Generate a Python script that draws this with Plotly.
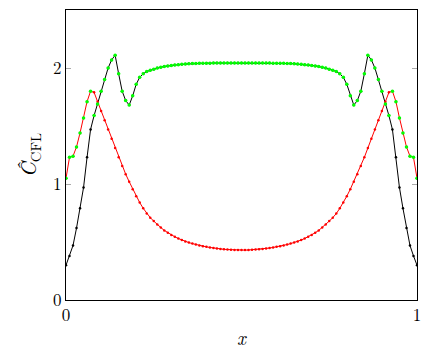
import numpy as np
import plotly.graph_objects as go

N = 101
x = np.linspace(0, 1, N)

black_vals = [0.30,0.38,0.47,0.62,0.79,0.97,1.23,1.47,1.59,1.69,
1.80,1.90,2.00,2.07,2.11,1.95,1.80,1.72,1.68,1.76,
1.86,1.92,1.95,1.97,1.98,1.99,2.00,2.007,2.013,2.018,
2.022,2.026,2.029,2.032,2.034,2.036,2.038,2.039,2.040,2.041,
2.042,2.042,2.043,2.043,2.043,2.044,2.044,2.044,2.044,2.044,
2.044,
2.044,2.044,2.044,2.044,2.044,2.043,2.043,2.043,2.042,2.042,
2.041,2.040,2.039,2.038,2.036,2.034,2.032,2.029,2.026,2.022,
2.018,2.013,2.007,2.00,1.99,1.98,1.97,1.95,1.92,1.86,
1.76,1.68,1.72,1.80,1.95,2.11,2.07,2.00,1.90,1.80,
1.69,1.59,1.47,1.23,0.97,0.79,0.62,0.47,0.38,0.30]

red_vals = [1.05,1.23,1.24,1.32,1.44,1.57,1.71,1.80,1.79,1.71,
1.63,1.55,1.47,1.39,1.31,1.23,1.155,1.085,1.02,0.955,
0.895,0.84,0.79,0.745,0.71,0.68,0.65,0.625,0.60,0.58,
0.56,0.545,0.53,0.517,0.505,0.495,0.486,0.478,0.47,0.464,
0.458,0.453,0.448,0.444,0.44,0.437,0.435,0.433,0.431,0.43,
0.43,
0.43,0.431,0.433,0.435,0.437,0.44,0.444,0.448,0.453,0.458,
0.464,0.47,0.478,0.486,0.495,0.505,0.517,0.53,0.545,0.56,
0.58,0.60,0.625,0.65,0.68,0.71,0.745,0.79,0.84,0.895,
0.955,1.02,1.085,1.155,1.23,1.31,1.39,1.47,1.55,1.63,
1.71,1.79,1.80,1.71,1.57,1.44,1.32,1.24,1.23,1.05]

green_vals = [1.05,1.23,1.24,1.32,1.44,1.57,1.71,1.80,1.59,1.69,
1.80,1.90,2.00,2.07,2.11,1.95,1.80,1.72,1.68,1.76,
1.86,1.92,1.95,1.97,1.98,1.99,2.00,2.007,2.013,2.018,
2.022,2.026,2.029,2.032,2.034,2.036,2.038,2.039,2.040,2.041,
2.042,2.042,2.043,2.043,2.043,2.044,2.044,2.044,2.044,2.044,
2.044,
2.044,2.044,2.044,2.044,2.044,2.043,2.043,2.043,2.042,2.042,
2.041,2.040,2.039,2.038,2.036,2.034,2.032,2.029,2.026,2.022,
2.018,2.013,2.007,2.00,1.99,1.98,1.97,1.95,1.92,1.86,
1.76,1.68,1.72,1.80,1.95,2.11,2.07,2.00,1.90,1.80,
1.69,1.59,1.80,1.71,1.57,1.44,1.32,1.24,1.23,1.05]

x_ticks = [0, 1]
y_ticks = [0, 1, 2]

FONT = "Latin Modern Roman, CMU Serif, Liberation Serif, DejaVu Serif, serif"

fig = go.Figure()
fig.add_trace(go.Scatter(x=x, y=black_vals, mode="lines+markers",
                         line=dict(color="black", width=1),
                         marker=dict(color="black", size=2.5), showlegend=False))
fig.add_trace(go.Scatter(x=x, y=red_vals, mode="lines+markers",
                         line=dict(color="#ff0000", width=1),
                         marker=dict(color="#ff0000", size=2.5), showlegend=False))
fig.add_trace(go.Scatter(x=x, y=green_vals, mode="markers",
                         marker=dict(color="#00ff00", size=3.5), showlegend=False))

fig.update_layout(
    width=437, height=354,
    margin=dict(l=66, r=20, t=10, b=54),
    paper_bgcolor="white", plot_bgcolor="white",
    font=dict(family=FONT, size=17, color="black"),
)
fig.update_xaxes(range=[0, 1], tickvals=x_ticks, ticktext=[str(v) for v in x_ticks],
                 showline=True, linecolor="black", linewidth=1, mirror="allticks",
                 ticks="inside", ticklen=5, tickcolor="#aaaaaa", showgrid=False,
                 zeroline=False, automargin=False,
                 title=dict(text="<i>x</i>", standoff=6, font=dict(size=19)))
fig.update_yaxes(range=[0, 2.5], tickvals=y_ticks, ticktext=[str(v) for v in y_ticks],
                 showline=True, linecolor="black", linewidth=1, mirror="allticks",
                 ticks="inside", ticklen=5, tickcolor="#aaaaaa", showgrid=False,
                 zeroline=False, automargin=False,
                 title=dict(text="<i>Ĉ</i><sub>CFL</sub>", standoff=10, font=dict(size=21)))

fig.write_html("out.html", config={"displayModeBar": False},
               post_script="document.body.style.margin='0';")
